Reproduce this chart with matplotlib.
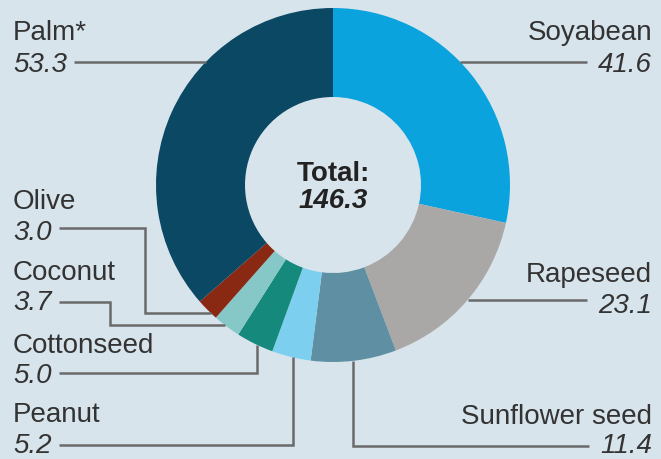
import numpy as np
import matplotlib.pyplot as plt

# Vegetable oil production, million tonnes
crops = ['Soyabean', 'Rapeseed', 'Sunflower seed', 'Peanut',
         'Cottonseed', 'Coconut', 'Olive', 'Palm*']
values = [41.6, 23.1, 11.4, 5.2, 5.0, 3.7, 3.0, 53.3]
colors = ['#0aa3de', '#a9a8a6', '#5f8fa3', '#7dcff0',
          '#15897b', '#86c7c7', '#8a2913', '#0b4864']

W, H = 661, 459
BG = '#d8e4ec'
TXT = '#333333'
LINE = '#6a6a6a'

# pixel layout (y measured from top)
cx, cy, R, ring = 333, 185, 177, 89
FS = 20

# label layout: side, label baseline, number baseline, leader y,
# elbow kind and elbow coordinates
layout = {
    'Palm*':          ('L', 40, 72, 62, 'h', None),
    'Soyabean':       ('R', 40, 72, 62, 'h', None),
    'Rapeseed':       ('R', 282, 313, 300, 'h', None),
    'Sunflower seed': ('R', 424, 453, 446, 'up', 353),
    'Olive':          ('L', 209, 240, 228, 'down', (145, 313)),
    'Coconut':        ('L', 280, 310, 302, 'down', (110, 325)),
    'Cottonseed':     ('L', 353, 383, 373, 'up', 257),
    'Peanut':         ('L', 422, 453, 445, 'up', 293),
}

plt.rcParams['font.family'] = ['Liberation Sans', 'DejaVu Sans']

fig = plt.figure(figsize=(W / 100, H / 100), dpi=100, facecolor=BG)
ax = fig.add_axes([0, 0, 1, 1])
ax.set_facecolor(BG)


def fy(y):
    return H - y


ax.pie(values, colors=colors, startangle=90, counterclock=False,
       center=(cx, fy(cy)), radius=R,
       wedgeprops=dict(width=ring, linewidth=0))
ax.set_xlim(0, W)
ax.set_ylim(0, H)
ax.set_aspect('equal')
ax.axis('off')

ax.text(cx, fy(181), 'Total:', ha='center', va='baseline', fontsize=FS,
        fontweight='bold', color='#222222')
ax.text(cx, fy(208), f'{sum(values):.1f}', ha='center', va='baseline',
        fontsize=FS, fontweight='bold', style='italic', color='#222222')

fig.canvas.draw()
rend = fig.canvas.get_renderer()

for name, val in zip(crops, values):
    side, lb, nb, ly, kind, elbow = layout[name]
    if side == 'L':
        tx, ha = 13, 'left'
    else:
        tx, ha = 652, 'right'
    ax.text(tx, fy(lb), name, ha=ha, va='baseline', fontsize=FS, color=TXT)
    num = ax.text(tx, fy(nb), f'{val:.1f}', ha=ha, va='baseline',
                  fontsize=FS, style='italic', color=TXT)
    bb = num.get_window_extent(rend)
    if side == 'L':
        x0 = bb.x1 + 7
    else:
        x0 = bb.x0 - 11

    if kind == 'h':
        dx = np.sqrt(R ** 2 - (ly - cy) ** 2)
        x1 = cx - dx if side == 'L' else cx + dx
        xs, ys = [x0, x1], [ly, ly]
    elif kind == 'down':
        ex, ey = elbow
        x1 = cx - np.sqrt(R ** 2 - (ey - cy) ** 2)
        xs, ys = [x0, ex, ex, x1], [ly, ly, ey, ey]
    else:
        ex = elbow
        y1 = cy + np.sqrt(R ** 2 - (ex - cx) ** 2)
        xs, ys = [x0, ex, ex], [ly, ly, y1]
    ax.plot(xs, [fy(v) for v in ys], color=LINE, lw=1.8,
            solid_joinstyle='miter', solid_capstyle='butt')

fig.savefig('out.png', dpi=100, facecolor=BG)
